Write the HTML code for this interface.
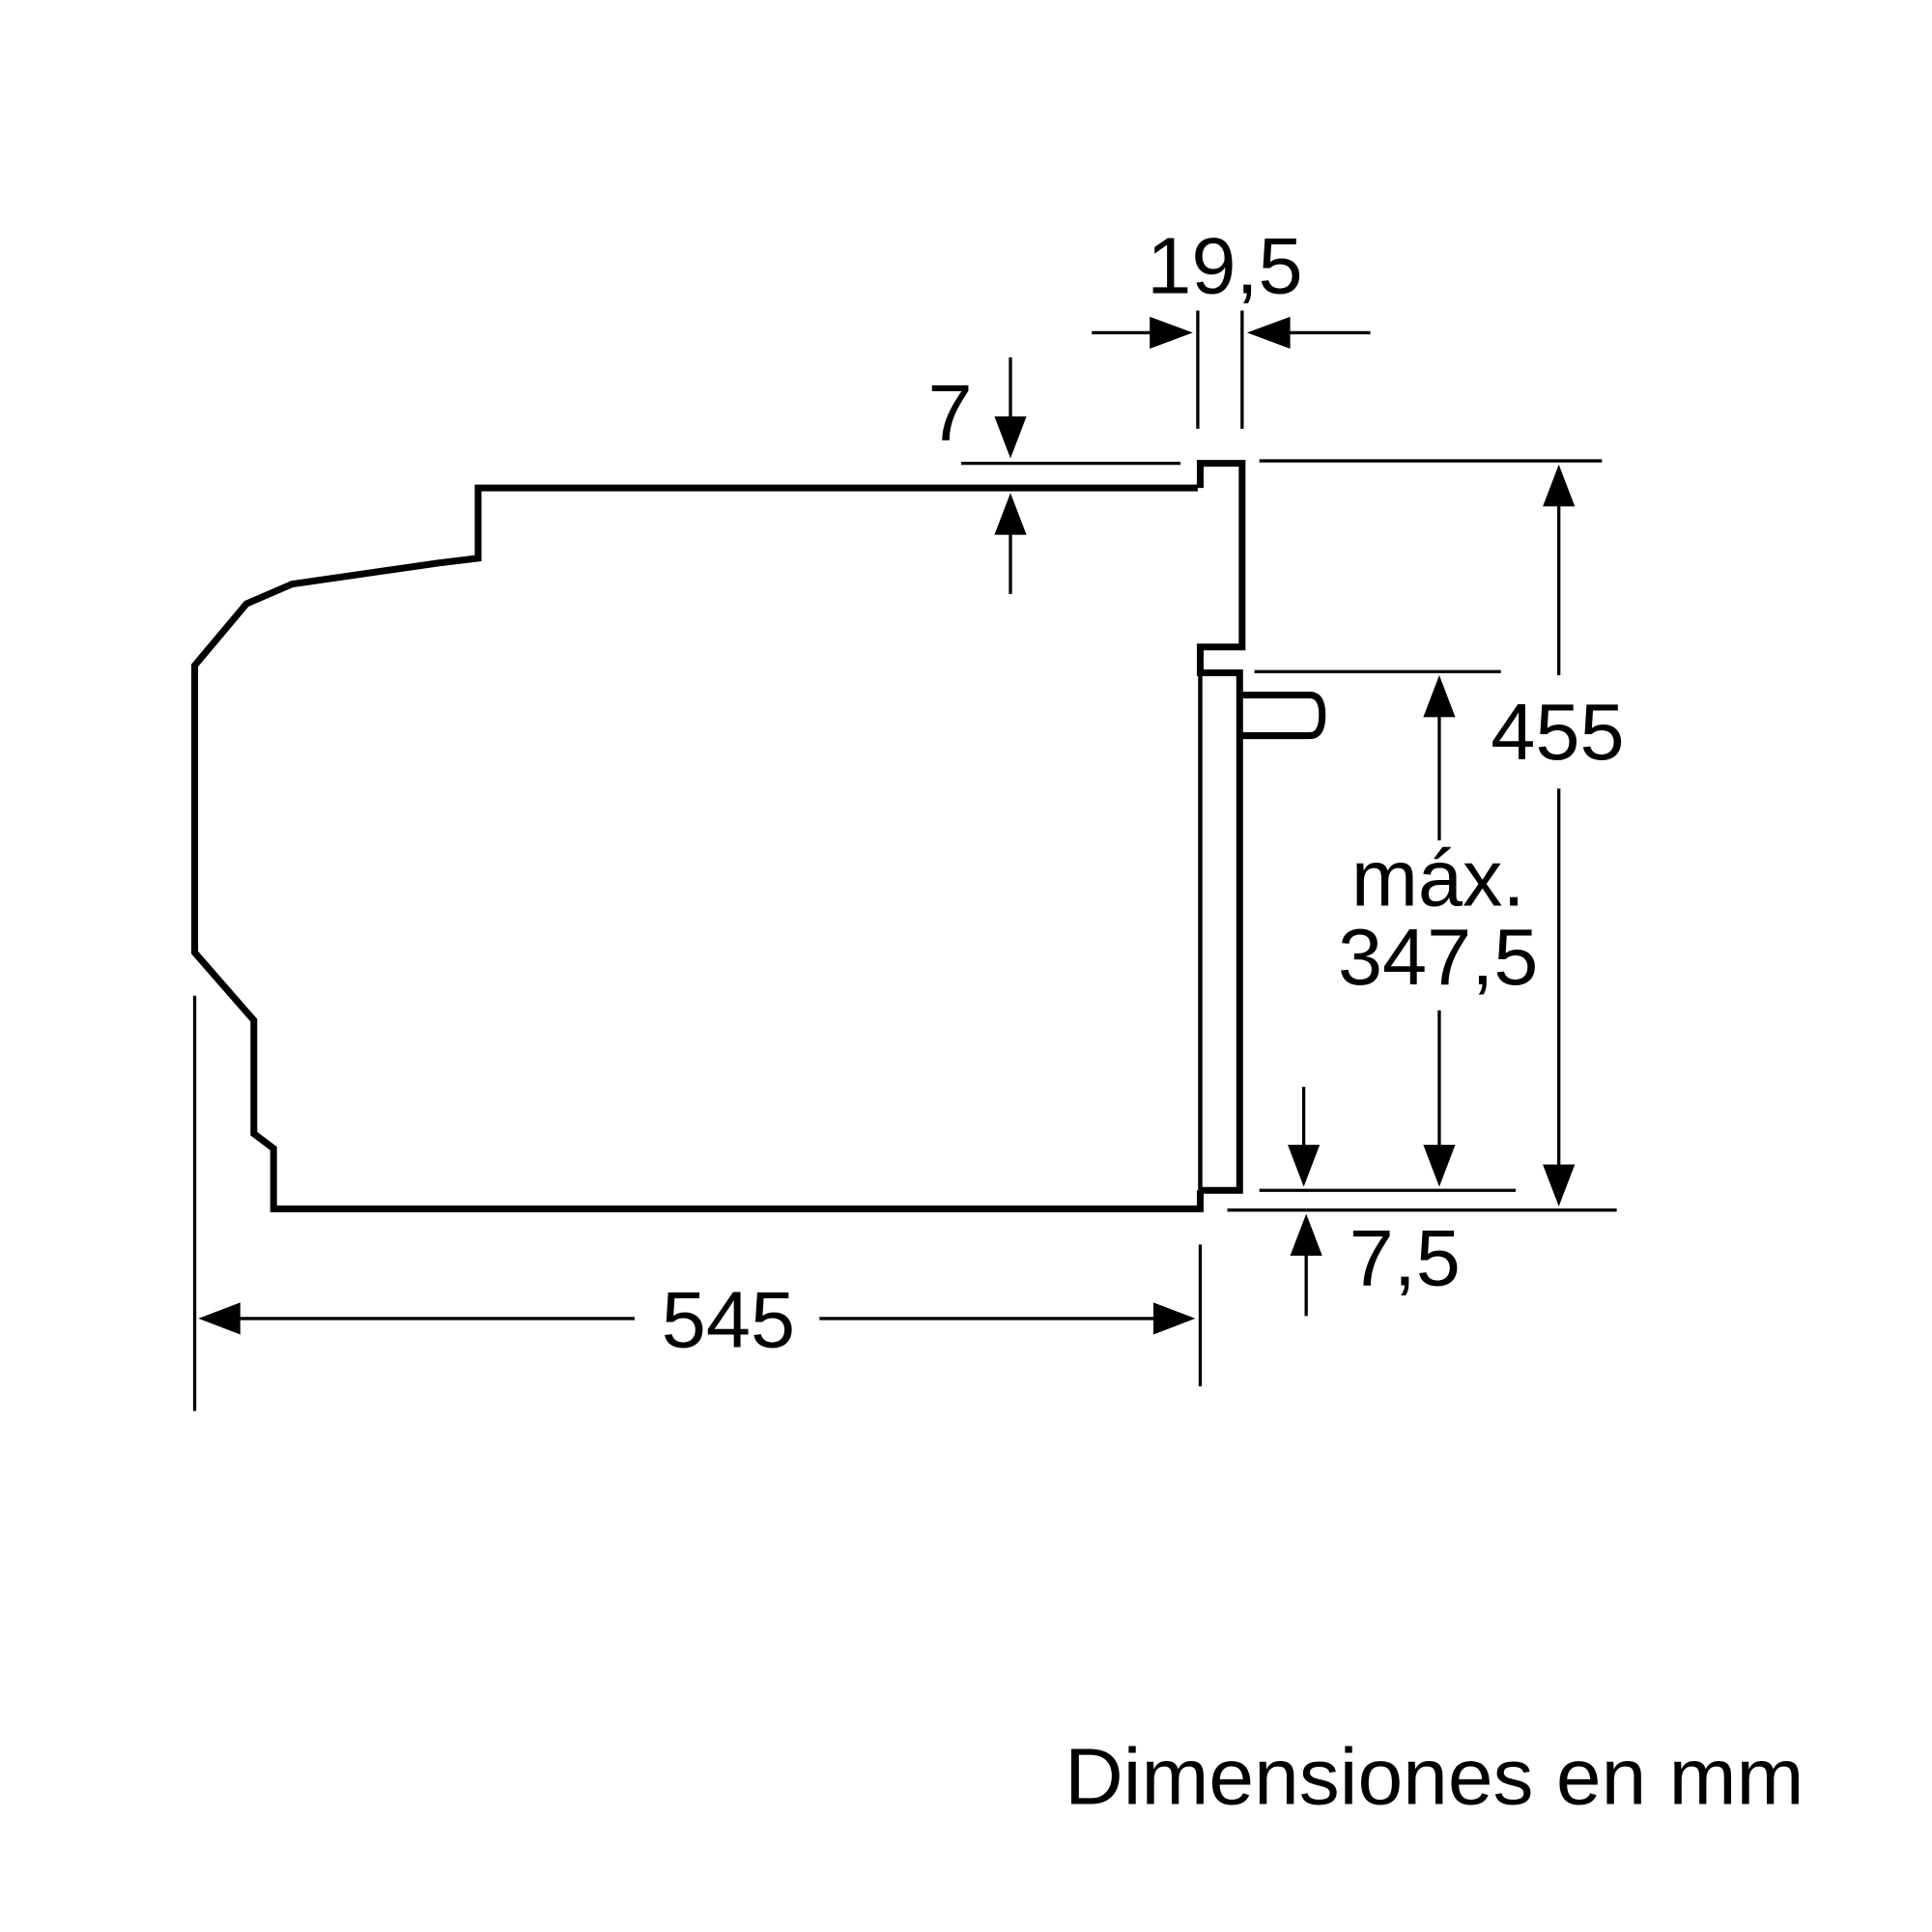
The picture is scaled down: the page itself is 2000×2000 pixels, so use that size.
<!DOCTYPE html>
<html><head><meta charset="utf-8"><style>
html,body{margin:0;padding:0;background:#fff;}
svg{display:block;}
text{font-family:"Liberation Sans",sans-serif;fill:#000;}
</style></head><body>
<svg width="2000" height="2000" viewBox="0 0 1560 1560" xmlns="http://www.w3.org/2000/svg">
<g transform="scale(0.995)">
<g fill="none" stroke="#000" stroke-linejoin="miter">
<path stroke-width="5.5" d="M972,396 L388,396 L388,453 L355,457 L237,474 L200,490 L158,540 L158,773 L206,828 L206,920 L222,932 L222,981 L974,981 L974,966"/>
<path stroke-width="5.5" d="M974,396 L974,376 L1008,376 L1008,525 L974,525 L974,546 L1006,546 L1006,966 L974,966"/>
<path stroke-width="3.5" d="M974,546 L974,966"/>
<path stroke-width="5.5" d="M1008,564 L1063,564 Q1073,564 1073,580 Q1073,597 1063,597 L1008,597"/>
</g>
<g stroke="#000" stroke-width="2.6" fill="none">
<line x1="972" y1="252" x2="972" y2="348"/>
<line x1="1008" y1="252" x2="1008" y2="348"/>
<line x1="886" y1="270" x2="940" y2="270"/>
<line x1="1040" y1="270" x2="1112" y2="270"/>
<line x1="780" y1="376" x2="958" y2="376"/>
<line x1="820" y1="290" x2="820" y2="345"/>
<line x1="820" y1="430" x2="820" y2="482"/>
<line x1="1022" y1="374" x2="1300" y2="374"/>
<line x1="996" y1="982" x2="1312" y2="982"/>
<line x1="1265" y1="408" x2="1265" y2="548"/>
<line x1="1265" y1="640" x2="1265" y2="948"/>
<line x1="1018" y1="545" x2="1218" y2="545"/>
<line x1="1022" y1="966" x2="1230" y2="966"/>
<line x1="1168" y1="578" x2="1168" y2="682"/>
<line x1="1168" y1="820" x2="1168" y2="934"/>
<line x1="1058" y1="882" x2="1058" y2="934"/>
<line x1="1060" y1="1014" x2="1060" y2="1068"/>
<line x1="158" y1="808" x2="158" y2="1145"/>
<line x1="974" y1="1010" x2="974" y2="1125"/>
<line x1="190" y1="1070" x2="515" y2="1070"/>
<line x1="665" y1="1070" x2="940" y2="1070"/>
</g>
<g fill="#000">
<polygon points="968,270 933,257 933,283"/>
<polygon points="1012,270 1047,257 1047,283"/>
<polygon points="820,372 807,338 833,338"/>
<polygon points="820,400 807,434 833,434"/>
<polygon points="1265,377 1252,411 1278,411"/>
<polygon points="1265,979 1252,945 1278,945"/>
<polygon points="1168,548 1155,582 1181,582"/>
<polygon points="1168,963 1155,929 1181,929"/>
<polygon points="1058,963 1045,929 1071,929"/>
<polygon points="1060,985 1047,1019 1073,1019"/>
<polygon points="161,1070 195,1057 195,1083"/>
<polygon points="970,1070 936,1057 936,1083"/>
</g>
<g font-size="65" text-anchor="middle">
<text x="994" y="238">19,5</text>
<text x="771" y="357">7</text>
<text x="1264" y="616">455</text>
<text x="1167" y="735">máx.</text>
<text x="1167" y="799">347,5</text>
<text x="1140" y="1043">7,5</text>
<text x="591" y="1093">545</text>
</g>
<text x="864" y="1464" font-size="65" textLength="600" lengthAdjust="spacingAndGlyphs">Dimensiones en mm</text>
</g>
</svg>
</body></html>
